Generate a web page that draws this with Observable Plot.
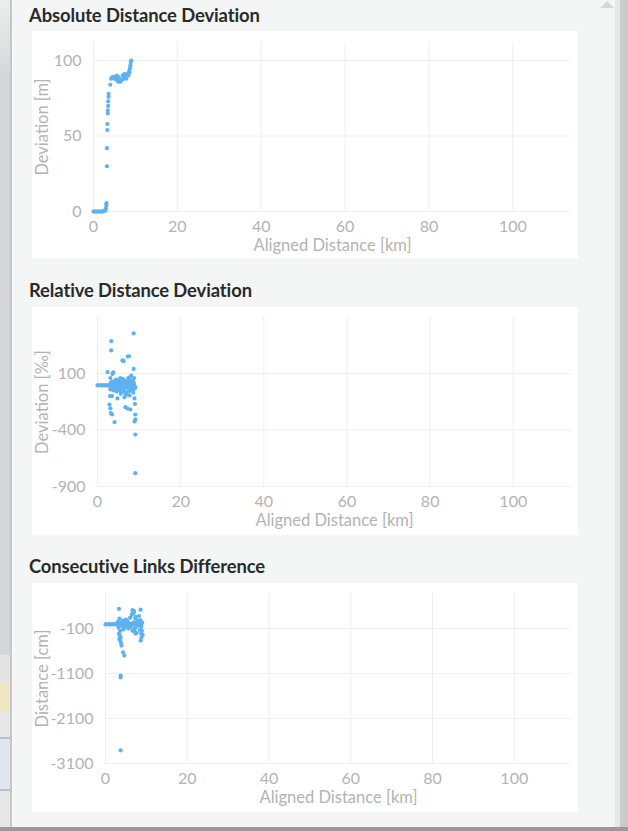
<!DOCTYPE html>
<html>
<head>
<meta charset="utf-8">
<script src="https://cdn.jsdelivr.net/npm/d3@7"></script>
<script src="https://cdn.jsdelivr.net/npm/@observablehq/plot@0.6"></script>
<style>
  html, body { margin: 0; padding: 0; }
  body { width: 628px; height: 831px; position: relative; overflow: hidden; background: #f4f6f6; font-family: Lato, "Open Sans", sans-serif; }
  .abs { position: absolute; }
  .title { position: absolute; left: 29px; font-weight: bold; font-size: 18.4px; line-height: 1.2; color: #2a2a2a; white-space: nowrap; letter-spacing: -0.1px; }
  .panel { position: absolute; left: 32px; width: 546px; background: #fff; }
  .panel svg { display: block; }
</style>
</head>
<body>
<!-- window chrome -->
<div class="abs" style="left:0;top:0;width:10px;height:655px;background:linear-gradient(160deg,#eceef0 0%,#d4d6d9 12%,#d4d6d9 100%);"></div>
<div class="abs" style="left:0;top:655px;width:10px;height:28px;background:#e4e4e4;"></div>
<div class="abs" style="left:0;top:683px;width:10px;height:28px;background:#f0e7c2;"></div>
<div class="abs" style="left:0;top:711px;width:10px;height:26px;background:#e8e8e8;"></div>
<div class="abs" style="left:0;top:737px;width:10px;height:2px;background:#a9c3da;"></div>
<div class="abs" style="left:0;top:739px;width:10px;height:50px;background:#e0e6ee;"></div>
<div class="abs" style="left:0;top:789px;width:10px;height:2px;background:#a9c3da;"></div>
<div class="abs" style="left:0;top:791px;width:10px;height:40px;background:#e8e8e8;"></div>
<div class="abs" style="left:10px;top:0;width:2px;height:831px;background:#c6c6c6;"></div>
<div class="abs" style="left:12px;top:0;width:1px;height:831px;background:#fbfbfb;"></div>
<div class="abs" style="left:615px;top:0;width:5px;height:831px;background:#e6e8e8;"></div>
<div class="abs" style="left:620px;top:0;width:8px;height:831px;background:#cacaca;"></div>
<div class="abs" style="left:600px;top:1px;width:0;height:0;border-left:7px solid transparent;border-right:7px solid transparent;border-bottom:7px solid #d6d8d8;"></div>
<div class="abs" style="left:0;top:827px;width:628px;height:4px;background:#9a9a9a;"></div>

<div class="title" style="top:4px;">Absolute Distance Deviation</div>
<div class="panel" id="p1" style="top:31px;height:227px;"></div>
<div class="title" style="top:279px;">Relative Distance Deviation</div>
<div class="panel" id="p2" style="top:307px;height:228px;"></div>
<div class="title" style="top:555px;">Consecutive Links Difference</div>
<div class="panel" id="p3" style="top:583px;height:229px;"></div>

<script>
// ---- shared ticks ----
const xTicks = [0, 20, 40, 60, 80, 100];
const absTicks = [0, 50, 100];
const relTicks = [-900, -400, 100];
const consTicks = [-3100, -2100, -1100, -100];
const xLabel = "Aligned Distance [km]";

// ---- Absolute Distance Deviation [m] ----
const absX = [0,0.25,0.5,0.75,1.0,1.25,1.5,1.75,2.0,2.25,2.5,2.7,2.85,2.95,3.05,3.1,
  3.2,3.2,3.3,3.3,3.4,3.4,3.5,3.5,3.6,3.6,4.0,
  4.2,4.5,4.8,5.0,5.3,5.5,5.6,5.9,6.0,6.1,6.4,6.7,7.0,7.2,7.3,7.5,7.8,8.0,8.3,8.5,8.6,8.7,8.8,8.9,9.0];
const absY = [0,0,0,0,0,0,0,0,0,0,0.3,0.5,1,2,4,5.5,
  30,42,54,58,65,67,70,73,76,78,84,
  88,89,89,88,89,90,87,86,89,88,86,87,90,88,91,89,88,91,90,93,92,95,97,99,100];

// ---- Relative Distance Deviation [‰] ----
const relX = [0,0.3,0.6,0.9,1.2,1.5,1.8,2.1,2.4,2.7,
  3.0,3.2,3.4,3.6,3.8,4.0,4.2,4.4,4.6,4.8,5.0,5.2,5.4,5.6,5.8,6.0,6.2,6.4,6.6,6.8,7.0,7.2,7.4,7.6,7.8,8.0,8.2,8.4,8.6,8.8,9.0,
  3.1,3.3,3.5,3.7,3.9,4.1,4.3,4.5,4.7,4.9,5.1,5.3,5.5,5.7,5.9,6.1,6.3,6.5,6.7,6.9,7.1,7.3,7.5,7.7,7.9,8.1,8.3,8.5,8.7,8.9,
  3.5,4.5,6.5,7.5,8.5,9.1,3.1,5.5,7.9,6.8,7.7,8.8,
  3.3,3.3,8.7,7.3,7.6,6.0,6.3,8.7,8.1,3.6,2.4,3.8,
  3.0,4.8,2.9,3.1,3.2,3.5,4.1,6.7,7.2,7.9,8.9,9.0,9.1,9.1,8.9,9.1,9.1];
const relY = [-5,-5,-5,-5,-5,-5,-5,-5,-5,-5,
  -10,20,-30,10,-50,30,-20,0,-60,15,-35,40,-5,-80,25,-15,50,-45,5,-90,30,-25,60,-10,-55,20,-40,10,-70,0,-30,
  -40,-5,25,-20,5,-45,15,-25,-5,30,-15,-50,10,-30,20,-60,0,-20,35,-70,-10,15,-35,45,-5,-25,10,-50,20,-15,
  -100,45,-110,-60,35,-20,60,60,70,-80,-95,60,
  386,304,454,250,252,215,209,140,80,96,112,110,
  -100,-121,-176,-210,-250,-263,-331,-198,-210,-219,-121,-170,-263,-307,-326,-440,-782];

// ---- Consecutive Links Difference [cm] ----
const consX = [0,0.3,0.6,0.9,1.2,1.5,1.8,2.1,2.4,2.7,
  3.0,3.2,3.4,3.6,3.8,4.0,4.2,4.4,4.6,4.8,5.0,5.2,5.4,5.6,5.8,6.0,6.2,6.4,6.6,6.8,7.0,7.2,7.4,7.6,7.8,8.0,8.2,8.4,8.6,8.8,9.0,9.1,
  3.1,3.5,3.9,4.3,4.7,5.1,5.5,5.9,6.3,6.7,7.1,7.5,7.9,8.3,8.7,6.5,7.3,8.1,8.9,6.1,
  3.3,6.6,6.9,8.6,7.0,
  3.3,3.5,3.7,3.4,3.6,3.8,3.9,4.3,4.6,3.7,3.7,3.7,8.6,8.7,7.1,7.3,8.8];
const consY = [-5,-5,-5,-5,-5,-5,-5,-5,-5,-5,
  50,-80,120,-150,20,-40,80,-120,30,-60,100,-20,60,-100,10,140,-50,200,-150,250,40,-90,160,-200,70,-30,180,-130,90,-60,30,-240,
  -20,10,-30,0,-10,20,-25,5,-15,30,-5,15,-35,0,-20,220,130,60,-150,-70,
  337,310,250,320,290,
  -210,-260,-300,-330,-366,-420,-477,-626,-700,-1143,-1188,-2808,-366,-210,-150,-210,-300];

const dotColor = "#5eb1f1";
const gridColor = "#eeeeee";
const textColor = "#b3b3b3";
const fmt = d => String(d);

function chart({el, height, mL, mT, mB, xs, ys, yDomain, yTicks, yLabel}) {
  const data = xs.map((x, i) => ({x, y: ys[i]}));
  const svg = Plot.plot({
    width: 546, height,
    marginLeft: mL, marginRight: 7, marginTop: mT, marginBottom: mB,
    style: {background: "white", fontFamily: "Lato, 'Open Sans', sans-serif", fontSize: "16px", color: textColor, overflow: "visible"},
    x: {domain: [0, 114]},
    y: {domain: yDomain},
    marks: [
      Plot.gridX(xTicks, {stroke: gridColor, strokeOpacity: 1}),
      Plot.gridY(yTicks, {stroke: gridColor, strokeOpacity: 1}),
      Plot.axisX(xTicks, {tickSize: 0, tickPadding: 9, tickFormat: fmt, label: null, fontSize: 16}),
      Plot.axisY(yTicks, {tickSize: 0, tickPadding: 12, tickFormat: fmt, label: null, fontSize: 16}),
      Plot.text([xLabel], {frameAnchor: "bottom", dy: 34, lineAnchor: "middle", textAnchor: "middle", fontSize: 16.5, fill: textColor}),
      Plot.text([yLabel], {frameAnchor: "left", dx: -(mL - 10), rotate: -90, textAnchor: "middle", lineAnchor: "middle", fontSize: 16.5, fill: textColor}),
      Plot.dot(data, {x: "x", y: "y", r: 2.1, fill: dotColor, stroke: "none"})
    ]
  });
  document.getElementById(el).appendChild(svg);
}

chart({el: "p1", height: 227, mL: 61, mT: 11, mB: 47, xs: absX, ys: absY, yDomain: [0, 112], yTicks: absTicks, yLabel: "Deviation [m]"});
chart({el: "p2", height: 228, mL: 65, mT: 10, mB: 49, xs: relX, ys: relY, yDomain: [-900, 595], yTicks: relTicks, yLabel: "Deviation [‰]"});
chart({el: "p3", height: 229, mL: 73, mT: 10, mB: 49, xs: consX, ys: consY, yDomain: [-3100, 680], yTicks: consTicks, yLabel: "Distance [cm]"});
</script>
</body>
</html>
